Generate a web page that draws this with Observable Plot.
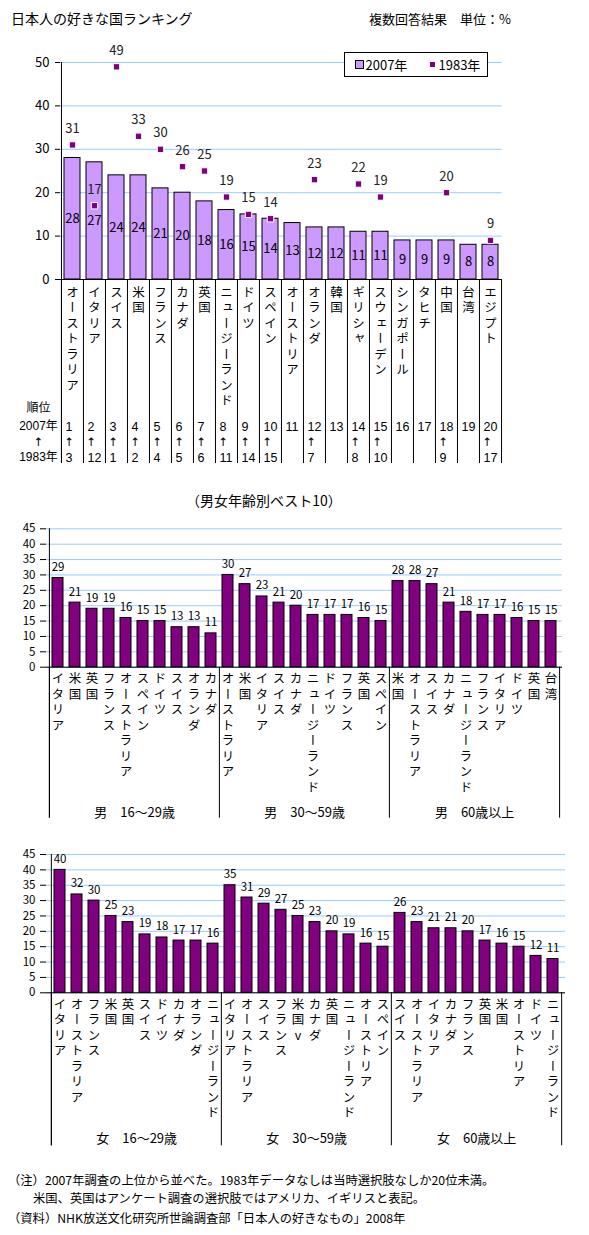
<!DOCTYPE html>
<html><head><meta charset="utf-8">
<script src="https://cdn.jsdelivr.net/npm/d3@7"></script>
<script src="https://cdn.jsdelivr.net/npm/@observablehq/plot@0.6"></script>
<style>
body{margin:0;background:#fff;}
#page{position:relative;width:589px;height:1235px;overflow:hidden;background:#fff;font-family:"Noto Sans CJK JP",sans-serif;color:#000;}
#page svg{position:absolute;left:0;background:transparent !important;}
.abs{position:absolute;white-space:nowrap;z-index:5;}
</style></head><body><div id="page"></div>
<script>
// ---------- data ----------
const countries = ["オーストラリア","イタリア","スイス","米国","フランス","カナダ","英国","ニュージーランド","ドイツ","スペイン","オーストリア","オランダ","韓国","ギリシャ","スウェーデン","シンガポール","タヒチ","中国","台湾","エジプト"];
const values2007 = [28,27,24,24,21,20,18,16,15,14,13,12,12,11,11,9,9,9,8,8];
const values1983 = [31,17,49,33,30,26,25,19,15,14,null,23,null,22,19,null,null,20,null,9];
const rank1983 = [3,12,1,2,4,5,6,11,14,15,null,7,null,8,10,null,null,9,null,17];
const yTicksTop = [0,10,20,30,40,50];
const rowLabels = ["順位","2007年","↑","1983年"];

const maleGroups = ["男　16～29歳","男　30～59歳","男　60歳以上"];
const maleNames = [
  ["イタリア","米国","英国","フランス","オーストラリア","スペイン","ドイツ","スイス","オランダ","カナダ"],
  ["オーストラリア","米国","イタリア","スイス","カナダ","ニュージーランド","ドイツ","フランス","英国","スペイン"],
  ["米国","オーストラリア","スイス","カナダ","ニュージーランド","フランス","イタリア","ドイツ","英国","台湾"]
];
const maleValues = [
  [29,21,19,19,16,15,15,13,13,11],
  [30,27,23,21,20,17,17,17,16,15],
  [28,28,27,21,18,17,17,16,15,15]
];
const femaleGroups = ["女　16～29歳","女　30～59歳","女　60歳以上"];
const femaleNames = [
  ["イタリア","オーストラリア","フランス","米国","英国","スイス","ドイツ","カナダ","オランダ","ニュージーランド"],
  ["イタリア","オーストラリア","スイス","フランス","米国v","カナダ","英国","ニュージーランド","オーストリア","スペイン"],
  ["スイス","オーストラリア","イタリア","カナダ","フランス","英国","米国","オーストリア","ドイツ","ニュージーランド"]
];
const femaleValues = [
  [40,32,30,25,23,19,18,17,17,16],
  [35,31,29,27,25,23,20,19,16,15],
  [26,23,21,21,20,17,16,15,12,11]
];
const yTicksAge = [0,5,10,15,20,25,30,35,40,45];

// ---------- layout ----------
const W = 589;
const FONT = "'Noto Sans CJK JP', 'Noto Sans CJK SC', sans-serif";
const NUMFONT = "'Liberation Sans', 'DejaVu Sans', 'Noto Sans CJK JP', sans-serif";
const ARROWFONT = "'DejaVu Sans', 'Liberation Sans', sans-serif";
const page = document.getElementById("page");
const GRID = "#99ccff", LAV = "#cc99ff", PUR = "#800080";

function verticalize(svg){
  d3.select(svg).selectAll('g[font-variant="normal"] text')
    .style("writing-mode","vertical-rl")
    .style("text-orientation", function(){ return /[a-z]/.test(this.textContent) ? "upright" : "mixed"; })
    .style("letter-spacing","3px");
}
function place(svg, top){
  svg.style.top = top + "px";
  page.appendChild(svg);
  verticalize(svg);
}
function addText(txt, css){
  const d = document.createElement("div");
  d.className = "abs";
  d.textContent = txt;
  Object.assign(d.style, css);
  page.appendChild(d);
  return d;
}

// ---------- chart 1 ----------
const topData = countries.map((c,i)=>({c, v07: values2007[i], v83: values1983[i], r07: i+1, r83: rank1983[i]}));
const c1 = {ml:60, mr:87.3, mt:62, mb:201, h:480};
const step1 = (W - c1.ml - c1.mr) / countries.length;
const has83 = topData.filter(d=>d.v83 != null);
const rowDy = [129,147,162.5,178];
const chart1 = Plot.plot({
  width: W, height: c1.h,
  marginLeft: c1.ml, marginRight: c1.mr, marginTop: c1.mt, marginBottom: c1.mb,
  style: {fontFamily: FONT, fontSize: "13px", background: "transparent", color: "#000"},
  x: {domain: countries, paddingInner: 0.26, paddingOuter: 0.13, axis: null},
  y: {domain: [0,50], axis: null},
  marks: [
    Plot.gridY(yTicksTop, {stroke: GRID, strokeOpacity: 1}),
    Plot.axisY(yTicksTop, {tickSize: 5, tickPadding: 6, fontSize: 13, tickFormat: d=>String(d), label: null}),
    Plot.barY(topData, {x: "c", y: "v07", fill: LAV, stroke: "#000", strokeWidth: 1}),
    Plot.text(topData, {x: "c", y: d=>d.v07/2, text: d=>String(d.v07), fontSize: 13, lineAnchor: "middle"}),
    Plot.dot(has83, {x: "c", y: "v83", symbol: "square", r: 3.6, fill: PUR, stroke: "#fff", strokeWidth: 1}),
    Plot.text(has83, {x: "c", y: "v83", text: d=>String(d.v83), lineAnchor: "bottom", dy: -12, fontSize: 13, fill: "#222"}),
    Plot.ruleY([0], {stroke: "#000"}),
    Plot.ruleX(countries, {x: d=>d, y1: ()=>0, y2: ()=>0, dx: -step1/2, insetBottom: -184, stroke: "#000"}),
    Plot.ruleX([countries[0]], {x: d=>d, y1: ()=>50, y2: ()=>0, dx: -step1/2, insetBottom: -184, stroke: "#000"}),
    Plot.ruleX([countries[countries.length-1]], {x: d=>d, y1: ()=>0, y2: ()=>0, dx: step1/2, insetBottom: -184, stroke: "#000"}),
    Plot.text(topData, {x: "c", text: "c", frameAnchor: "bottom", lineAnchor: "bottom", textAnchor: "start", dy: 6, fontSize: 12.5, fontVariant: "normal"}),
    // rank table
    Plot.text(topData, {x: "c", text: d=>String(d.r07), frameAnchor: "bottom", lineAnchor: "middle", textAnchor: "start", dx: -step1/2 + 4, dy: rowDy[1], fontSize: 12.5, fontFamily: NUMFONT}),
    Plot.text(topData, {x: "c", text: d=>d.r83 != null ? "↑" : "", frameAnchor: "bottom", lineAnchor: "middle", textAnchor: "start", dx: -step1/2 + 3, dy: rowDy[2], fontSize: 11.5, fontFamily: ARROWFONT}),
    Plot.text(topData, {x: "c", text: d=>d.r83 != null ? String(d.r83) : "", frameAnchor: "bottom", lineAnchor: "middle", textAnchor: "start", dx: -step1/2 + 4, dy: rowDy[3], fontSize: 12.5, fontFamily: NUMFONT}),
    ...rowLabels.map((t,i)=>Plot.text([t], {text: d=>d, frameAnchor: "bottom-left", lineAnchor: "middle", textAnchor: "middle", dx: -22, dy: rowDy[i], fontSize: i === 2 ? 11.5 : 12, fontFamily: i === 0 ? FONT : i === 2 ? ARROWFONT : NUMFONT}))
  ]
});
place(chart1, 0);

// ---------- age charts ----------
function ageChart(groups, names, values, o){
  const data = groups.flatMap((g,gi)=>names[gi].map((n,i)=>({key: gi+"-"+i, g, n, v: values[gi][i], i})));
  const keys = data.map(d=>d.key);
  const step = (W - o.ml - o.mr) / keys.length;
  const starts = data.filter(d=>d.i === 0);
  const mids = data.filter(d=>d.i === 4);
  const last = data[data.length-1];
  return Plot.plot({
    width: W, height: o.h,
    marginLeft: o.ml, marginRight: o.mr, marginTop: o.mt, marginBottom: o.mb,
    style: {fontFamily: FONT, fontSize: "12px", background: "transparent", color: "#000"},
    x: {domain: keys, paddingInner: 0.38, paddingOuter: 0.19, axis: null},
    y: {domain: [0,45], axis: null},
    marks: [
      Plot.gridY(yTicksAge, {stroke: GRID, strokeOpacity: 1}),
      Plot.axisY(yTicksAge, {tickSize: 6, tickPadding: 5, fontSize: 11.5, tickFormat: d=>String(d), label: null}),
      Plot.barY(data, {x: "key", y: "v", fill: PUR, stroke: "#000", strokeWidth: 1}),
      Plot.text(data, {x: "key", y: "v", text: d=>String(d.v), lineAnchor: "bottom", dy: -7, fontSize: 11.5}),
      Plot.ruleY([0], {stroke: "#000"}),
      Plot.ruleX(starts, {x: "key", y1: ()=>0, y2: ()=>0, dx: -step/2, insetBottom: -o.depth, stroke: "#000"}),
      Plot.ruleX([data[0]], {x: "key", y1: ()=>45, y2: ()=>0, dx: -step/2, insetBottom: -o.depth, stroke: "#000"}),
      Plot.ruleX([last], {x: "key", y1: ()=>0, y2: ()=>0, dx: step/2, insetBottom: -o.depth, stroke: "#000"}),
      Plot.text(data, {x: "key", text: "n", frameAnchor: "bottom", lineAnchor: "bottom", textAnchor: "start", dy: 5, fontSize: 12.5, fontVariant: "normal"}),
      Plot.text(mids, {x: "key", text: "g", dx: step/2, frameAnchor: "bottom", lineAnchor: "middle", dy: o.labelDy, fontSize: 13})
    ]
  });
}
const chart2 = ageChart(maleGroups, maleNames, maleValues, {h: 350, ml: 46, mr: 27, mt: 48.3, mb: 163.3, depth: 151, labelDy: 146});
place(chart2, 480);
const chart3 = ageChart(femaleGroups, femaleNames, femaleValues, {h: 330, ml: 46, mr: 24, mt: 24, mb: 167.7, depth: 153, labelDy: 146.5});
place(chart3, 830);

// ---------- texts ----------
addText("日本人の好きな国ランキング", {left: "11px", top: "8px", fontSize: "14px", lineHeight: "20px"});
addText("複数回答結果　単位：%", {right: "78px", top: "9px", fontSize: "13px", lineHeight: "20px"});
{
  const lg = document.createElement("div");
  lg.className = "abs";
  Object.assign(lg.style, {left: "343.5px", top: "51.5px", width: "142px", height: "23px", border: "1px solid #000", background: "#fff", fontSize: "13px", lineHeight: "23px"});
  lg.innerHTML = `<span style="position:absolute;left:10px;top:7px;width:7px;height:7px;background:${LAV};border:1px solid #000"></span>`+
    `<span style="position:absolute;left:21px;top:0">2007年</span>`+
    `<span style="position:absolute;left:85px;top:9.5px;width:5px;height:5px;background:${PUR}"></span>`+
    `<span style="position:absolute;left:94px;top:0">1983年</span>`;
  page.appendChild(lg);
}
addText("（男女年齢別ベスト10）", {left: "186px", top: "490px", fontSize: "14px", lineHeight: "20px"});
addText("（注）2007年調査の上位から並べた。1983年データなしは当時選択肢なしか20位未満。", {left: "8px", top: "1171px", fontSize: "12.3px", lineHeight: "18px"});
addText("米国、英国はアンケート調査の選択肢ではアメリカ、イギリスと表記。", {left: "33px", top: "1189px", fontSize: "12.3px", lineHeight: "18px"});
addText("（資料）NHK放送文化研究所世論調査部「日本人の好きなもの」2008年", {left: "8px", top: "1209px", fontSize: "12.3px", lineHeight: "18px"});
</script>
</body></html>
